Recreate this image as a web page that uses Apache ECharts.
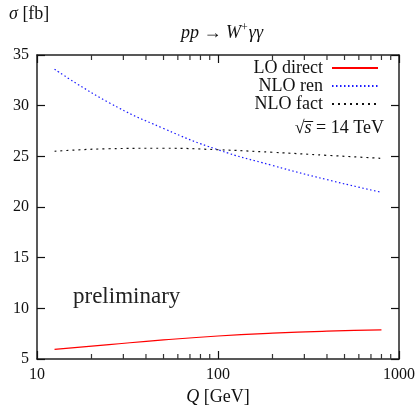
<!DOCTYPE html>
<html>
<head>
<meta charset="utf-8">
<script src="https://cdn.jsdelivr.net/npm/echarts@6/dist/echarts.min.js"></script>
<style>
  html, body { margin: 0; padding: 0; background: #fff; }
  #main { width: 418px; height: 411px; }
</style>
</head>
<body>
<div id="main"></div>
<script>
var Q = [12.5, 25, 50, 100, 200, 400, 800];
var loDirect = [5.95, 6.42, 6.88, 7.27, 7.55, 7.75, 7.88];
var nloRen = [33.6, 30.3, 27.75, 25.65, 24.1, 22.7, 21.45];
var nloFact = [25.5, 25.75, 25.8, 25.65, 25.4, 25.1, 24.8];
var majorTicks = [10, 100, 1000];
var minorTicks = [20, 30, 40, 50, 60, 70, 80, 90, 200, 300, 400, 500, 600, 700, 800, 900];

function pairs(ys) {
  return Q.map(function (q, i) { return [q, ys[i]]; });
}

var font = 'Liberation Serif';
var chart = echarts.init(document.getElementById('main'));

var axisLine = { show: true, lineStyle: { color: '#222', width: 1.5 } };
var majorTick = { show: true, inside: true, length: 8, lineStyle: { color: '#111', width: 1.2 }, customValues: majorTicks };
var yTick = { show: true, inside: true, length: 8, lineStyle: { color: '#111', width: 1.2 } };

chart.setOption({
  animation: false,
  textStyle: { fontFamily: font },
  title: {
    text: '{i|pp} → {i|W}{sup|+}{i|γγ}',
    left: 217, top: 17, textAlign: 'center',
    textStyle: {
      fontFamily: font, fontSize: 18, fontWeight: 'normal', color: '#111',
      rich: {
        i: { fontFamily: font, fontStyle: 'italic', fontSize: 18, color: '#111' },
        sup: { fontFamily: font, fontSize: 12, color: '#111', padding: [0, 1, 10, 0] }
      }
    }
  },
  grid: { left: 37, right: 16, top: 55, bottom: 49 },
  legend: {
    orient: 'vertical', align: 'right', right: 34, top: 54,
    itemWidth: 46, itemHeight: 12, itemGap: 0,
    itemStyle: { opacity: 0 },
    textStyle: { fontFamily: font, fontSize: 18, lineHeight: 16, color: '#111', padding: [0, 4, 0, 0] },
    data: ['LO direct', 'NLO ren', 'NLO fact']
  },
  xAxis: [{
    type: 'log', logBase: 10, min: 10, max: 1000,
    name: '{i|Q} [GeV]', nameLocation: 'middle', nameGap: 29,
    nameTextStyle: {
      fontFamily: font, fontSize: 18, color: '#111',
      rich: { i: { fontFamily: font, fontStyle: 'italic', fontSize: 18, color: '#111' } }
    },
    axisLine: axisLine,
    axisTick: majorTick,
    axisLabel: { fontFamily: font, fontSize: 16, color: '#111', margin: 8, customValues: majorTicks,
      formatter: function (v) { return String(v); } },
    splitLine: { show: false }
  }, {
    type: 'log', logBase: 10, min: 10, max: 1000, position: 'top',
    axisLine: axisLine,
    axisTick: majorTick,
    axisLabel: { show: false },
    splitLine: { show: false }
  }],
  yAxis: [{
    type: 'value', min: 5, max: 35, interval: 5,
    axisLine: axisLine,
    axisTick: yTick,
    axisLabel: { fontFamily: font, fontSize: 16, color: '#111', margin: 8 },
    splitLine: { show: false }
  }, {
    type: 'value', min: 5, max: 35, interval: 5, position: 'right',
    axisLine: axisLine,
    axisTick: yTick,
    axisLabel: { show: false },
    splitLine: { show: false }
  }],
  graphic: [
    { type: 'text', left: 9, top: 5,
      style: { text: '{i|σ} [fb]', fontFamily: font, fontSize: 18, fill: '#111',
        rich: { i: { fontFamily: font, fontStyle: 'italic', fontSize: 18, fill: '#111' } } } },
    { type: 'text', left: 73, top: 285,
      style: { text: 'preliminary', fontFamily: font, fontSize: 23, fill: '#222' } },
    { type: 'text', right: 34, top: 119,
      style: { text: '√{o|s\u0305} = 14 TeV', fontFamily: font, fontSize: 18, fill: '#111',
        rich: { o: { fontFamily: font, fontStyle: 'italic', fontSize: 18, fill: '#111' } } } }
  ],
  series: [{
    name: 'LO direct', type: 'line', symbol: 'none', smooth: true,
    lineStyle: { color: '#ff0000', width: 1.2 }, itemStyle: { color: '#ff0000' },
    data: pairs(loDirect)
  }, {
    name: 'NLO ren', type: 'line', symbol: 'none', smooth: true,
    lineStyle: { color: '#1a1aff', width: 1.2, type: [1.5, 2.5] }, itemStyle: { color: '#1a1aff' },
    data: pairs(nloRen)
  }, {
    name: 'NLO fact', type: 'line', symbol: 'none', smooth: true,
    lineStyle: { color: '#111', width: 1.2, type: [2, 4] }, itemStyle: { color: '#111' },
    data: pairs(nloFact)
  }, {
    // minor log ticks, bottom and top
    name: 'minor', type: 'custom', silent: true, clip: false,
    data: minorTicks.map(function (v) { return [v, 5]; }),
    renderItem: function (params, api) {
      var b = api.coord([api.value(0), 5]);
      var t = api.coord([api.value(0), 35]);
      var st = { stroke: '#333', lineWidth: 1.2 };
      return { type: 'group', children: [
        { type: 'line', shape: { x1: b[0], y1: b[1], x2: b[0], y2: b[1] - 5 }, style: st },
        { type: 'line', shape: { x1: t[0], y1: t[1], x2: t[0], y2: t[1] + 5 }, style: st }
      ] };
    }
  }]
});
</script>
</body>
</html>
